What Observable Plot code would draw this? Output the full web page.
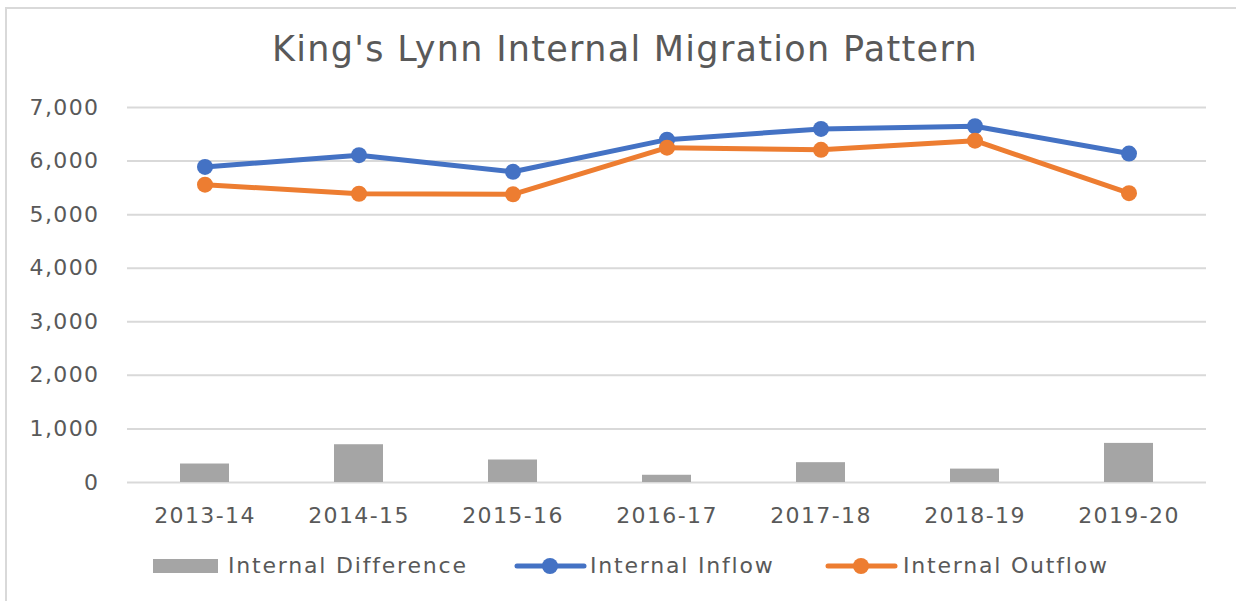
<!DOCTYPE html>
<html>
<head>
<meta charset="utf-8">
<script src="https://cdn.jsdelivr.net/npm/d3@7"></script>
<script src="https://cdn.jsdelivr.net/npm/@observablehq/plot@0.6"></script>
<style>
  html, body { margin: 0; padding: 0; background: #fff; overflow: hidden; }
  #page { width: 1236px; height: 601px; position: relative; overflow: hidden; font-family: "DejaVu Sans", sans-serif; color: #595959; }
  #frame { position: absolute; left: 5px; top: 7px; width: 1300px; height: 700px; border-top: 2px solid #d9d9d9; border-left: 2px solid #d9d9d9; box-sizing: border-box; }
  #title { position: absolute; left: 0; width: 1250px; top: 29px; text-align: center; font-size: 35px; letter-spacing: 1.3px; color: #595959; white-space: nowrap; }
  #chart { position: absolute; left: 0; top: 90px; }
  .leg { position: absolute; top: 553px; font-size: 22px; letter-spacing: 1.8px; color: #595959; white-space: nowrap; line-height: 26px; }
  .sw { position: absolute; }
</style>
</head>
<body>
<div id="page">
<div id="frame"></div>
<div id="title">King's Lynn Internal Migration Pattern</div>
<div id="chart"></div>
<div id="legend"></div>
</div>
<script>
const categories = ["2013-14", "2014-15", "2015-16", "2016-17", "2017-18", "2018-19", "2019-20"];
const inflow = [5890, 6110, 5800, 6400, 6600, 6650, 6140];
const outflow = [5560, 5390, 5380, 6250, 6210, 6380, 5400];
const difference = [345, 705, 420, 135, 370, 250, 730];
const yTicks = [0, 1000, 2000, 3000, 4000, 5000, 6000, 7000];
const seriesNames = ["Internal Difference", "Internal Inflow", "Internal Outflow"];
const colors = ["#a5a5a5", "#4472c4", "#ed7d31"];

const barData = categories.map((c, i) => ({cat: c, value: difference[i]}));
const inData = categories.map((c, i) => ({cat: c, value: inflow[i]}));
const outData = categories.map((c, i) => ({cat: c, value: outflow[i]}));

const chart = Plot.plot({
  width: 1236,
  height: 440,
  marginLeft: 127,
  marginRight: 30,
  marginTop: 17,
  marginBottom: 48,
  style: { fontFamily: "DejaVu Sans, sans-serif", fontSize: "22px", letterSpacing: "1.4px", color: "#595959", background: "transparent" },
  x: { domain: categories, paddingInner: 0.68, paddingOuter: 0.34, label: null, tickSize: 0, tickPadding: 25 },
  y: { domain: [0, 7000], ticks: yTicks, label: null, tickSize: 0, tickPadding: 28, tickFormat: d3.format(",") },
  marks: [
    Plot.gridY(yTicks, { stroke: "#d9d9d9", strokeOpacity: 1, strokeWidth: 2 }),
    Plot.barY(barData, { x: "cat", y: "value", fill: colors[0] }),
    Plot.line(inData, { x: "cat", y: "value", stroke: colors[1], strokeWidth: 5, strokeLinejoin: "round", strokeLinecap: "round" }),
    Plot.dot(inData, { x: "cat", y: "value", fill: colors[1], r: 8 }),
    Plot.line(outData, { x: "cat", y: "value", stroke: colors[2], strokeWidth: 5, strokeLinejoin: "round", strokeLinecap: "round" }),
    Plot.dot(outData, { x: "cat", y: "value", fill: colors[2], r: 8 })
  ]
});
document.getElementById("chart").appendChild(chart);

// Legend
const legend = document.getElementById("legend");
const legPos = [
  { sw: 153, text: 228 },
  { sw: 514, text: 590 },
  { sw: 825, text: 903 }
];
seriesNames.forEach((name, i) => {
  const p = legPos[i];
  const svg = document.createElementNS("http://www.w3.org/2000/svg", "svg");
  svg.setAttribute("class", "sw");
  svg.setAttribute("width", 75);
  svg.setAttribute("height", 20);
  svg.style.left = p.sw + "px";
  svg.style.top = "556px";
  if (i === 0) {
    svg.innerHTML = `<rect x="0" y="3" width="65" height="14" fill="${colors[0]}"/>`;
  } else {
    svg.innerHTML = `<line x1="3" x2="70" y1="10" y2="10" stroke="${colors[i]}" stroke-width="5" stroke-linecap="round"/><circle cx="36" cy="10" r="8" fill="${colors[i]}"/>`;
  }
  legend.appendChild(svg);
  const t = document.createElement("div");
  t.className = "leg";
  t.style.left = p.text + "px";
  t.textContent = name;
  legend.appendChild(t);
});
</script>
</body>
</html>
